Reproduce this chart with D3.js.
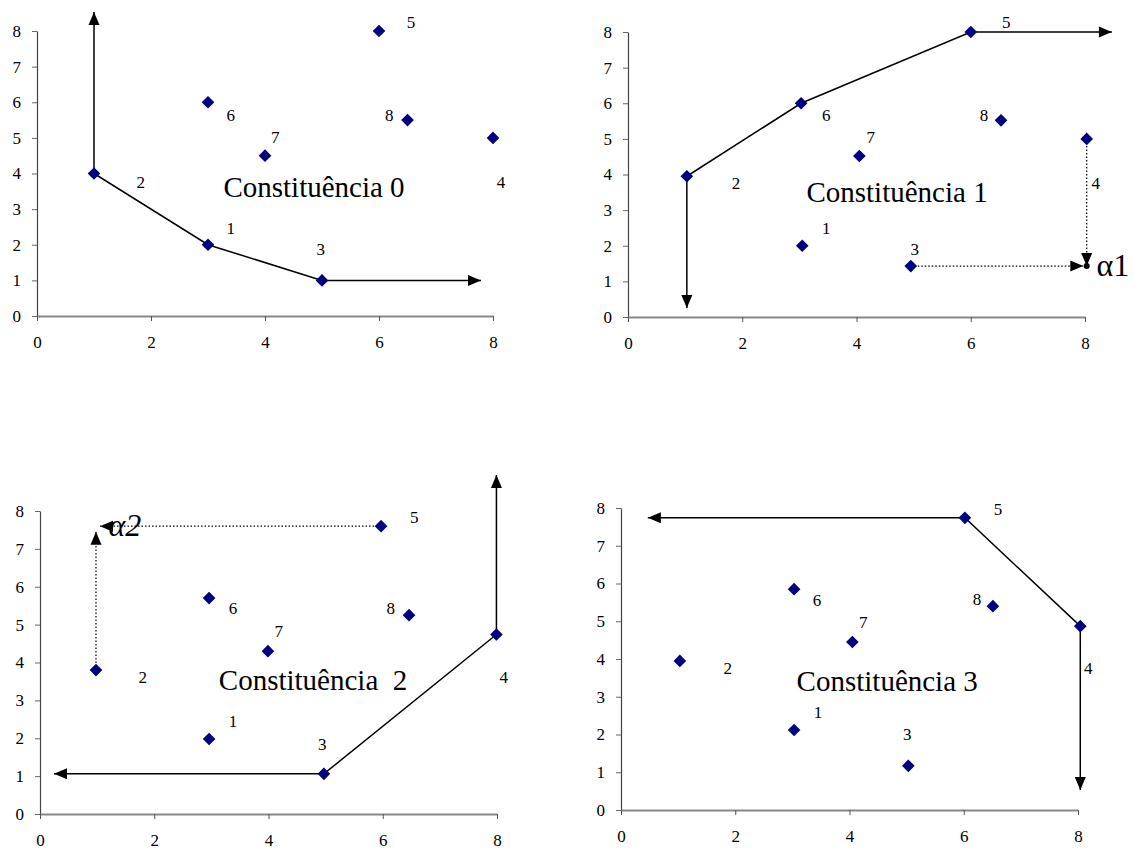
<!DOCTYPE html>
<html>
<head>
<meta charset="utf-8">
<script src="https://cdn.jsdelivr.net/npm/d3@7"></script>
<style>
  html, body { margin: 0; padding: 0; background: #fff; }
  svg text { font-family: "Liberation Serif", "Times New Roman", Times, serif !important; white-space: pre; }
</style>
</head>
<body>
<svg id="chart" width="1133" height="850"></svg>
<script>
// ---------- data ----------
const xTickValues = [0, 2, 4, 6, 8];
const yTickValues = [0, 1, 2, 3, 4, 5, 6, 7, 8];
const pointIds = ["1", "2", "3", "4", "5", "6", "7", "8"];

const titles = ["Constituência 0", "Constituência 1", "Constituência  2", "Constituência 3"];
const titleX = [4.86, 4.71, 4.78, 4.66];
const titleY = [3.62, 3.51, 3.54, 3.42];

// panel 0
const p0x = [3, 1, 5, 8, 6, 3, 4, 6.5];
const p0y = [2, 4, 1, 5, 8, 6, 4.5, 5.5];
const l0x = [3.40, 1.82, 4.98, 8.14, 6.56, 3.40, 4.18, 6.18];
const l0y = [2.47, 3.76, 1.88, 3.76, 8.25, 5.64, 5.02, 5.64];
// panel 1
const p1x = [3.05, 1.03, 4.95, 8.03, 6, 3.03, 4.05, 6.53];
const p1y = [2, 3.95, 1.43, 5, 8, 6, 4.52, 5.52];
const l1x = [3.47, 1.89, 5.02, 8.19, 6.62, 3.47, 4.25, 6.23];
const l1y = [2.50, 3.76, 1.91, 3.76, 8.28, 5.67, 5.05, 5.67];
// panel 2
const p2x = [2.96, 0.98, 4.97, 7.99, 5.97, 2.96, 3.99, 6.46];
const p2y = [1.98, 3.8, 1.06, 4.74, 7.6, 5.7, 4.3, 5.25];
const l2x = [3.38, 1.80, 4.94, 8.12, 6.55, 3.38, 4.18, 6.14];
const l2y = [2.46, 3.62, 1.85, 3.62, 7.84, 5.44, 4.83, 5.44];
// panel 3
const p3x = [3.03, 1.03, 5.03, 8.04, 6.02, 3.03, 4.05, 6.51];
const p3y = [2.12, 3.95, 1.17, 4.87, 7.74, 5.85, 4.45, 5.4];
const l3x = [3.45, 1.87, 5.01, 8.18, 6.60, 3.43, 4.24, 6.23];
const l3y = [2.60, 3.76, 2.01, 3.76, 7.97, 5.56, 4.98, 5.59];

// solid frontier paths (arrowheads at both ends)
const front0 = [[1, 8.53], [1, 4], [3, 2], [5, 1], [7.79, 1]];
const front1 = [[1.03, 0.25], [1.03, 3.95], [3.03, 6], [6, 8], [8.47, 8]];
const front2 = [[0.245, 1.06], [4.97, 1.06], [7.99, 4.74], [7.99, 8.95]];
const front3 = [[0.47, 7.74], [6.02, 7.74], [8.04, 4.87], [8.04, 0.53]];

// dotted projections (arrowhead at end)
const dots1 = [[[8.03, 5], [8.03, 1.43]], [[4.95, 1.43], [7.97, 1.43]]];
const dots2 = [[[0.98, 3.8], [0.98, 7.45]], [[5.97, 7.6], [1.05, 7.6]]];
const dots0 = [];
const dots3 = [];

const alphaLabels = [null, "α1", "α2", null];
const alphaX = [null, 8.2, 1.2, null];
const alphaY = [null, 1.45, 7.62, null];
const alphaDot = [null, [8.03, 1.43], null, null];

// ---------- layout ----------
const frames = [
  {x0: 37, x1: 493, y0: 316, y1: 31},
  {x0: 628, x1: 1085, y0: 317, y1: 32},
  {x0: 40, x1: 497, y0: 814, y1: 511},
  {x0: 621, x1: 1078, y0: 810, y1: 508}
];

const panels = [
  {px: p0x, py: p0y, lx: l0x, ly: l0y, front: front0, dots: dots0},
  {px: p1x, py: p1y, lx: l1x, ly: l1y, front: front1, dots: dots1},
  {px: p2x, py: p2y, lx: l2x, ly: l2y, front: front2, dots: dots2},
  {px: p3x, py: p3y, lx: l3x, ly: l3y, front: front3, dots: dots3}
];

const FONT = '"Liberation Serif", "Times New Roman", Times, serif';
const svg = d3.select("#chart");

function arrowHead(g, x, y, angle) {
  const L = 13, W = 5.5;
  const pts = [[0, 0], [-L, -W], [-L, W]].map(([a, b]) => [
    x + a * Math.cos(angle) - b * Math.sin(angle),
    y + a * Math.sin(angle) + b * Math.cos(angle)
  ]);
  g.append("path").attr("d", "M" + pts.join("L") + "Z").attr("fill", "#000");
}

panels.forEach((p, i) => {
  const f = frames[i];
  const x = d3.scaleLinear().domain([0, 8]).range([f.x0, f.x1]);
  const y = d3.scaleLinear().domain([0, 8]).range([f.y0, f.y1]);
  const g = svg.append("g");

  // y axis
  const ya = g.append("g").attr("transform", `translate(${f.x0},0)`)
    .call(d3.axisLeft(y).tickValues(yTickValues).tickSize(5).tickSizeOuter(0).tickPadding(11));
  ya.attr("font-family", null).attr("font-size", null);
  ya.select(".domain").attr("stroke", "#444").attr("stroke-width", 1.2);
  ya.selectAll(".tick line").attr("stroke", "#666");
  ya.selectAll(".tick text").style("font-family", FONT).style("font-size", "17px").attr("fill", "#000");

  // x axis
  const xa = g.append("g").attr("transform", `translate(0,${f.y0})`)
    .call(d3.axisBottom(x).tickValues(xTickValues).tickSize(5).tickSizeOuter(0).tickPadding(15));
  xa.attr("font-family", null).attr("font-size", null);
  xa.select(".domain").attr("stroke", "#888").attr("stroke-width", 2);
  xa.selectAll(".tick line").attr("stroke", "#555");
  xa.selectAll(".tick text").style("font-family", FONT).style("font-size", "17px").attr("fill", "#000");

  // dotted projections
  p.dots.forEach(seg => {
    const [a, b] = seg;
    const xa1 = x(a[0]), ya1 = y(a[1]), xb = x(b[0]), yb = y(b[1]);
    g.append("line").attr("x1", xa1).attr("y1", ya1).attr("x2", xb).attr("y2", yb)
      .attr("stroke", "#000").attr("stroke-width", 1.2).attr("stroke-dasharray", "1.5,2");
    arrowHead(g, xb, yb, Math.atan2(yb - ya1, xb - xa1));
  });

  // solid frontier
  const line = d3.line().x(d => x(d[0])).y(d => y(d[1]));
  g.append("path").attr("d", line(p.front)).attr("fill", "none")
    .attr("stroke", "#000").attr("stroke-width", 1.5);
  const fr = p.front, n = fr.length;
  arrowHead(g, x(fr[0][0]), y(fr[0][1]),
    Math.atan2(y(fr[0][1]) - y(fr[1][1]), x(fr[0][0]) - x(fr[1][0])));
  arrowHead(g, x(fr[n - 1][0]), y(fr[n - 1][1]),
    Math.atan2(y(fr[n - 1][1]) - y(fr[n - 2][1]), x(fr[n - 1][0]) - x(fr[n - 2][0])));

  // points
  const sym = d3.symbol().type(d3.symbolSquare).size(80);
  p.px.forEach((vx, k) => {
    g.append("path").attr("d", sym())
      .attr("transform", `translate(${x(vx)},${y(p.py[k])}) rotate(45)`)
      .attr("fill", "#000080");
  });

  // point labels
  pointIds.forEach((id, k) => {
    g.append("text").attr("x", x(p.lx[k])).attr("y", y(p.ly[k]))
      .attr("dy", "0.35em").attr("text-anchor", "middle")
      .style("font-family", FONT).style("font-size", "17px").attr("fill", "#000").text(id);
  });

  // title
  g.append("text").attr("x", x(titleX[i])).attr("y", y(titleY[i]))
    .attr("dy", "0.35em").attr("text-anchor", "middle")
    .style("font-family", FONT).style("font-size", "29px").attr("fill", "#000").text(titles[i]);

  // alpha annotation
  if (alphaDot[i]) {
    g.append("circle").attr("cx", x(alphaDot[i][0])).attr("cy", y(alphaDot[i][1]))
      .attr("r", 3).attr("fill", "#000");
  }
  if (alphaLabels[i]) {
    g.append("text").attr("x", x(alphaX[i])).attr("y", y(alphaY[i]))
      .attr("dy", "0.33em")
      .style("font-family", FONT).style("font-size", "32px")
      .style("font-style", i === 2 ? "italic" : "normal")
      .attr("fill", "#000").text(alphaLabels[i]);
  }
});
</script>
</body>
</html>
